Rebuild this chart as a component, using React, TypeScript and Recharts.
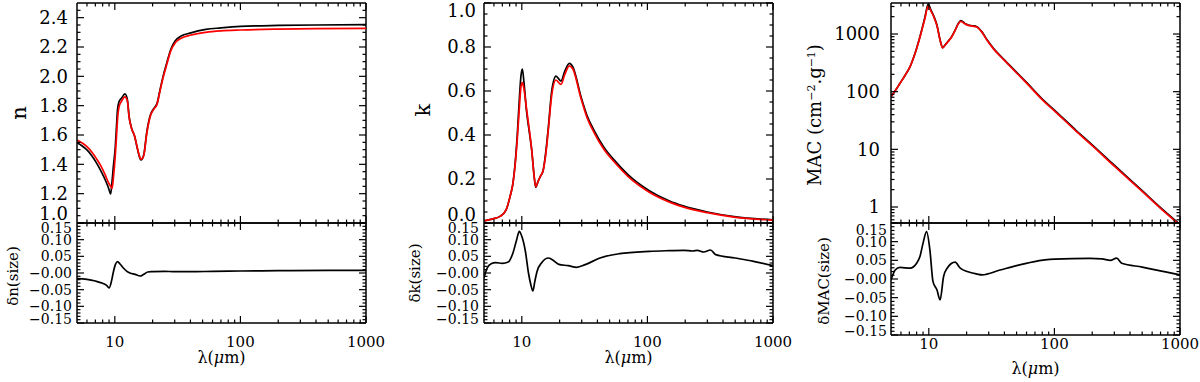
import React from 'react';
import { LineChart, Line, XAxis, YAxis, ReferenceLine } from 'recharts';

const FONT = "'DejaVu Serif', 'Liberation Serif', serif";

// ---------- x ticks (wavelength, log) ----------
const xMajor = [10, 100, 1000];
const xMinor = [6, 7, 8, 9, 20, 30, 40, 50, 60, 70, 80, 90, 200, 300, 400, 500, 600, 700, 800, 900];
const xTicks = [...xMinor, ...xMajor].sort((a, b) => a - b);

// ---------- y ticks ----------
const nMajor = [1.0, 1.2, 1.4, 1.6, 1.8, 2.0, 2.2, 2.4];
const kMajor = [0.0, 0.2, 0.4, 0.6, 0.8, 1.0];
const macMajor = [1, 10, 100, 1000];
const macMinor = [0.6, 0.7, 0.8, 0.9, 2, 3, 4, 5, 6, 7, 8, 9, 20, 30, 40, 50, 60, 70, 80, 90, 200, 300, 400, 500, 600, 700, 800, 900, 2000, 3000];
const dMajor = [-0.15, -0.1, -0.05, 0, 0.05, 0.1, 0.15];

function steps(a: number, b: number, step: number): number[] {
  const out: number[] = [];
  for (let v = a; v <= b + 1e-9; v += step) out.push(Math.round(v * 1000) / 1000);
  return out;
}
const nTicks = steps(1.0, 2.45, 0.05);
const kTicks = steps(0, 1.0, 0.05);
const macTicks = [...macMinor, ...macMajor].sort((a, b) => a - b);
const dTicks = steps(-0.15, 0.15, 0.01);

// ---------- n (real part) ----------
const nWl = [5, 5.5, 6, 6.6, 7.2, 7.8, 8.4, 8.9, 9.27, 9.5, 9.75, 10.05, 10.3, 10.5, 10.8, 11.3, 12.05, 12.6, 13.0, 13.6, 14.4, 15.0, 15.6, 16.1, 16.6, 17.1, 17.9, 19.2, 20.4, 21.7, 22.9, 24.4, 25.9, 27.8, 30.1, 33.8, 39.7, 53, 70, 100, 200, 400, 1000];
const nBlack = [1.547, 1.525, 1.498, 1.455, 1.405, 1.35, 1.293, 1.24, 1.198, 1.28, 1.39, 1.5, 1.65, 1.77, 1.827, 1.85, 1.88, 1.84, 1.725, 1.646, 1.59, 1.52, 1.46, 1.43, 1.44, 1.475, 1.61, 1.736, 1.78, 1.816, 1.907, 2.01, 2.09, 2.18, 2.24, 2.275, 2.295, 2.32, 2.33, 2.34, 2.347, 2.35, 2.352];
const nRed = [1.566, 1.545, 1.52, 1.48, 1.434, 1.385, 1.327, 1.275, 1.25, 1.235, 1.31, 1.44, 1.58, 1.7, 1.79, 1.83, 1.86, 1.83, 1.72, 1.645, 1.59, 1.525, 1.465, 1.435, 1.44, 1.47, 1.6, 1.73, 1.775, 1.81, 1.9, 2.0, 2.08, 2.17, 2.225, 2.26, 2.28, 2.3, 2.31, 2.316, 2.322, 2.325, 2.327];

// ---------- delta n ----------
const dnWl = [5, 6, 7, 8, 8.6, 9.0, 9.4, 9.7, 10.1, 10.5, 11, 11.7, 12.5, 13.2, 14.5, 15.9, 17, 18.3, 20, 25, 30, 40, 60, 100, 200, 500, 1000];
const dnVal = [-0.017, -0.019, -0.024, -0.031, -0.037, -0.045, -0.025, 0.0, 0.025, 0.034, 0.027, 0.015, 0.005, 0.0, -0.004, -0.009, -0.004, 0.003, 0.004, 0.005, 0.004, 0.004, 0.005, 0.006, 0.007, 0.008, 0.008];

// ---------- k (imaginary part) ----------
const kWl = [5, 6, 6.7, 7.5, 8.06, 8.5, 8.8, 9.2, 9.55, 9.85, 10.1, 10.4, 10.9, 11.5, 12, 12.5, 12.9, 13.5, 14, 14.8, 15.5, 16.3, 17.3, 18.7, 20.5, 22, 23.9, 25.5, 29.6, 33, 37.7, 45, 54.5, 70, 103.5, 150, 195, 300, 490, 1000];
const kBlack = [0.01, 0.02, 0.03, 0.06, 0.12, 0.18, 0.256, 0.4, 0.56, 0.67, 0.7, 0.64, 0.51, 0.41, 0.33, 0.22, 0.162, 0.19, 0.21, 0.24, 0.32, 0.44, 0.6, 0.668, 0.645, 0.69, 0.726, 0.71, 0.574, 0.49, 0.42, 0.345, 0.286, 0.22, 0.147, 0.1, 0.077, 0.05, 0.029, 0.014];
const kRed = [0.01, 0.02, 0.03, 0.06, 0.12, 0.18, 0.25, 0.38, 0.52, 0.62, 0.638, 0.61, 0.52, 0.42, 0.33, 0.22, 0.165, 0.19, 0.21, 0.24, 0.31, 0.43, 0.58, 0.65, 0.63, 0.675, 0.714, 0.7, 0.566, 0.48, 0.41, 0.335, 0.277, 0.212, 0.14, 0.095, 0.072, 0.047, 0.027, 0.013];

// ---------- delta k ----------
const dkWl = [5, 5.3, 5.7, 6.2, 7, 7.8, 8.5, 9.1, 9.55, 10, 10.7, 11.3, 11.8, 12.25, 12.7, 13.2, 14.4, 16.3, 17.5, 19.7, 23.4, 27.3, 32, 41.9, 60, 103.5, 150, 195, 230, 250, 281, 318, 350, 500, 700, 1000];
const dkVal = [-0.015, 0.015, 0.028, 0.031, 0.029, 0.033, 0.06, 0.1, 0.125, 0.11, 0.063, 0.0, -0.035, -0.054, -0.025, 0.004, 0.031, 0.045, 0.04, 0.026, 0.022, 0.017, 0.025, 0.045, 0.058, 0.065, 0.067, 0.068, 0.066, 0.068, 0.063, 0.069, 0.055, 0.045, 0.035, 0.022];

// ---------- MAC ----------
const macWl = [5, 5.5, 5.9, 6.5, 7.08, 7.76, 8.5, 9.0, 9.33, 9.6, 9.9, 10.4, 11.0, 11.6, 12.3, 12.9, 13.5, 14.2, 15.2, 16.2, 17.1, 18, 19.4, 20.6, 22.3, 24.1, 26.4, 29, 32.7, 40, 50, 60, 81.7, 100, 150, 200, 300, 500, 700, 1000];
const macBlack = [82, 110, 140, 195, 270, 460, 900, 1450, 2000, 2700, 3300, 2600, 2000, 1430, 790, 580, 650, 740, 900, 1170, 1500, 1700, 1530, 1430, 1390, 1340, 1100, 800, 565, 356, 217, 145, 71.7, 48, 21, 12, 5.3, 1.92, 0.98, 0.5];
const macRed = [82, 110, 140, 195, 270, 455, 880, 1400, 1900, 2550, 3050, 2500, 1950, 1400, 780, 575, 645, 735, 890, 1150, 1470, 1650, 1500, 1410, 1370, 1320, 1080, 785, 553, 348, 211, 141, 69.5, 46.5, 20.3, 11.6, 5.1, 1.86, 0.95, 0.485];

// ---------- delta MAC ----------
const dmWl = [5, 5.4, 5.9, 7.1, 8.0, 8.5, 9.0, 9.6, 10.2, 10.8, 11.6, 12.3, 13.1, 14, 16.2, 17.8, 20.2, 24.3, 26.5, 36.9, 50, 67.9, 100, 192, 239, 279, 313, 344, 500, 1000];
const dmVal = [-0.003, 0.024, 0.031, 0.029, 0.042, 0.06, 0.096, 0.127, 0.078, -0.007, -0.029, -0.056, 0.006, 0.029, 0.045, 0.029, 0.02, 0.013, 0.011, 0.024, 0.036, 0.046, 0.053, 0.055, 0.054, 0.05, 0.056, 0.042, 0.032, 0.011];

const nData = nWl.map((x, i) => ({ x, b: nBlack[i], r: nRed[i] }));
const dnData = dnWl.map((x, i) => ({ x, b: dnVal[i] }));
const kData = kWl.map((x, i) => ({ x, b: kBlack[i], r: kRed[i] }));
const dkData = dkWl.map((x, i) => ({ x, b: dkVal[i] }));
const macData = macWl.map((x, i) => ({ x, b: macBlack[i], r: macRed[i] }));
const dmData = dmWl.map((x, i) => ({ x, b: dmVal[i] }));

const fmt1 = (v: number) => v.toFixed(1);
const fmtInt = (v: number) => String(v);
const fmtD = (v: number) => (Math.abs(v) < 1e-9 ? '\u22120.00' : (v < 0 ? '\u2212' : '') + Math.abs(v).toFixed(2));

const TWO = [{ key: 'b', color: '#000000' }, { key: 'r', color: '#ff0000' }];
const ONE = [{ key: 'b', color: '#000000' }];

const RotTitle = (props: any) => {
  const { tx, ty, size, node } = props;
  return (
    <text x={tx} y={ty} transform={`rotate(-90 ${tx} ${ty})`} textAnchor="middle" dy="0.36em" fontFamily={FONT} fontSize={size} fill="#000">
      {node}
    </text>
  );
};

const XTitle = (props: any) => {
  const { tx, ty } = props;
  return (
    <text x={tx} y={ty} textAnchor="middle" dy="0.36em" fontFamily={FONT} fontSize={16} fill="#000">
      λ(<tspan fontStyle="italic">μ</tspan>m)
    </text>
  );
};

interface PanelProps {
  left: number; top: number; width: number; height: number;
  plotL: number; plotR: number; plotT: number; plotB: number;
  data: Record<string, number>[];
  series: { key: string; color: string }[];
  yDomain: [number, number]; yLog?: boolean;
  yTicks: number[]; yMajor: number[];
  yFmt: (v: number) => string; yFont: number; yGap: number;
  edgeTop: number; edgeBottom: number;
  xLabels: boolean; xLabelDy: number; xTitleDy: number;
  title: React.ReactElement;
}

function Panel(p: PanelProps) {
  const isMajorY = (v: number) => p.yMajor.some((m) => Math.abs(m - v) < 1e-6);
  const XTick = (props: any) => {
    const x = props.x;
    const v = props.payload.value;
    const major = xMajor.includes(v);
    const len = major ? 7 : 3.5;
    return (
      <g>
        <line x1={x} x2={x} y1={p.plotB} y2={p.plotB - len} stroke="#000" strokeWidth={1.2} />
        <line x1={x} x2={x} y1={p.plotT} y2={p.plotT + len} stroke="#000" strokeWidth={1.2} />
        {p.xLabels && major ? (
          <text x={x} y={p.plotB + p.xLabelDy} textAnchor="middle" dy="0.36em" fontFamily={FONT} fontSize={15} fill="#000">
            {v}
          </text>
        ) : null}
      </g>
    );
  };
  const YTick = (props: any) => {
    const y = props.y;
    const v = props.payload.value;
    const major = isMajorY(v);
    const len = major ? 7 : 3.5;
    let ly = y;
    if (Math.abs(y - p.plotT) < 1.5) ly = y + p.edgeTop;
    if (Math.abs(y - p.plotB) < 1.5) ly = y - p.edgeBottom;
    return (
      <g>
        <line x1={p.plotL} x2={p.plotL + len} y1={y} y2={y} stroke="#000" strokeWidth={1.2} />
        <line x1={p.plotR} x2={p.plotR - len} y1={y} y2={y} stroke="#000" strokeWidth={1.2} />
        {major ? (
          <text x={p.plotL - p.yGap} y={ly} textAnchor="end" dy="0.36em" fontFamily={FONT} fontSize={p.yFont} fill="#000">
            {p.yFmt(v)}
          </text>
        ) : null}
      </g>
    );
  };
  const xTitle = p.xLabels ? <XTitle tx={(p.plotL + p.plotR) / 2} ty={p.plotB + p.xTitleDy} /> : undefined;
  return (
    <div style={{ position: 'absolute', left: p.left, top: p.top, width: p.width, height: p.height }}>
      <LineChart
        width={p.width}
        height={p.height}
        data={p.data}
        margin={{ top: p.plotT, right: p.width - p.plotR, bottom: 0, left: 0 }}
      >
        <XAxis
          xAxisId="x"
          dataKey="x"
          type="number"
          scale="log"
          domain={[5, 1000]}
          allowDataOverflow
          ticks={xTicks}
          interval={0}
          tick={XTick}
          tickLine={false}
          tickSize={0}
          tickMargin={0}
          height={p.height - p.plotB}
          axisLine={{ stroke: '#000', strokeWidth: 1.5 }}
          label={xTitle}
        />
        <YAxis
          yAxisId="y"
          type="number"
          scale={p.yLog ? 'log' : 'linear'}
          domain={p.yDomain}
          allowDataOverflow
          ticks={p.yTicks}
          interval={0}
          tick={YTick}
          tickLine={false}
          tickSize={0}
          tickMargin={0}
          width={p.plotL}
          axisLine={{ stroke: '#000', strokeWidth: 1.5 }}
          label={p.title}
        />
        <ReferenceLine xAxisId="x" yAxisId="y" y={p.yDomain[1]} stroke="#000" strokeWidth={1.5} />
        <ReferenceLine xAxisId="x" yAxisId="y" x={1000} stroke="#000" strokeWidth={1.5} />
        {p.series.map((s) => (
          <Line
            key={s.key}
            xAxisId="x"
            yAxisId="y"
            dataKey={s.key}
            stroke={s.color}
            strokeWidth={1.7}
            dot={false}
            type="monotone"
            isAnimationActive={false}
          />
        ))}
      </LineChart>
    </div>
  );
}

const macTitle = (
  <>
    MAC (cm<tspan dy={-6} fontSize={11}>−2</tspan>
    <tspan dy={6}>.g</tspan>
    <tspan dy={-6} fontSize={11}>−1</tspan>
    <tspan dy={6}>)</tspan>
  </>
);

export default function App() {
  return (
    <div style={{ position: 'absolute', left: 0, top: 0, width: 1200, height: 382, background: '#fff', overflow: 'hidden' }}>
      {/* column 1 */}
      <Panel left={0} top={0} width={400} height={232} plotL={77} plotR={366} plotT={3} plotB={223}
        data={nData} series={TWO} yDomain={[1.0, 2.5]} yTicks={nTicks} yMajor={nMajor} yFmt={fmt1} yFont={18} yGap={9}
        edgeTop={8} edgeBottom={9} xLabels={false} xLabelDy={0} xTitleDy={0}
        title={<RotTitle tx={18} ty={113} size={21} node="n" />} />
      <Panel left={0} top={214} width={400} height={168} plotL={77} plotR={366} plotT={9} plotB={109}
        data={dnData} series={ONE} yDomain={[-0.15, 0.15]} yTicks={dTicks} yMajor={dMajor} yFmt={fmtD} yFont={14} yGap={5}
        edgeTop={5} edgeBottom={4} xLabels={true} xLabelDy={19} xTitleDy={34}
        title={<RotTitle tx={13} ty={62} size={15} node="δn(size)" />} />
      {/* column 2 */}
      <Panel left={400} top={0} width={400} height={232} plotL={84} plotR={373} plotT={3} plotB={223}
        data={kData} series={TWO} yDomain={[0, 1.0]} yTicks={kTicks} yMajor={kMajor} yFmt={fmt1} yFont={18} yGap={8}
        edgeTop={8} edgeBottom={8} xLabels={false} xLabelDy={0} xTitleDy={0}
        title={<RotTitle tx={22} ty={110} size={21} node="k" />} />
      <Panel left={400} top={214} width={400} height={168} plotL={84} plotR={373} plotT={9} plotB={109}
        data={dkData} series={ONE} yDomain={[-0.15, 0.15]} yTicks={dTicks} yMajor={dMajor} yFmt={fmtD} yFont={14} yGap={5}
        edgeTop={5} edgeBottom={4} xLabels={true} xLabelDy={19} xTitleDy={34}
        title={<RotTitle tx={15} ty={59} size={15} node="δk(size)" />} />
      {/* column 3 */}
      <Panel left={800} top={0} width={400} height={232} plotL={91} plotR={380} plotT={3} plotB={223}
        data={macData} series={TWO} yDomain={[0.528, 3450]} yLog yTicks={macTicks} yMajor={macMajor} yFmt={fmtInt} yFont={18} yGap={11}
        edgeTop={8} edgeBottom={8} xLabels={false} xLabelDy={0} xTitleDy={0}
        title={<RotTitle tx={15} ty={115} size={18} node={macTitle} />} />
      <Panel left={800} top={214} width={400} height={168} plotL={91} plotR={380} plotT={9} plotB={121}
        data={dmData} series={ONE} yDomain={[-0.15, 0.15]} yTicks={dTicks} yMajor={dMajor} yFmt={fmtD} yFont={14} yGap={4}
        edgeTop={7} edgeBottom={4} xLabels={true} xLabelDy={9} xTitleDy={33}
        title={<RotTitle tx={24} ty={67} size={15} node="δMAC(size)" />} />
    </div>
  );
}
